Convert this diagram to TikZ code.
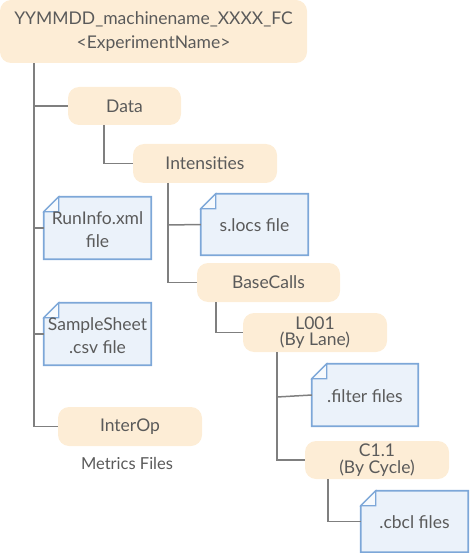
\documentclass[tikz,border=0pt]{standalone}
\usepackage{fontspec}
\setmainfont{Lato}
\definecolor{peach}{HTML}{FDEDD6}
\definecolor{bluefill}{HTML}{EBF2FA}
\definecolor{blueline}{HTML}{7DA7D8}
\definecolor{linegray}{HTML}{7F7F7F}
\definecolor{txtgray}{HTML}{5A5A5A}
\tikzset{
  folder/.style={fill=peach, rounded corners=11pt, inner sep=0pt, align=center,
    text=txtgray, font=\fontsize{17.5}{16.5}\selectfont},
  filenode/.style={inner sep=0pt, align=center, text=txtgray,
    font=\fontsize{17.5}{23}\selectfont},
  conn/.style={draw=linegray, line width=1.5pt},
  fileshape/.style={fill=bluefill, draw=blueline, line width=1.8pt, line join=miter},
}
\newcommand{\filebox}[1]{%
  \path[fileshape] ([xshift=15pt]#1.north west) -- (#1.north east) -- (#1.south east)
    -- (#1.south west) -- ([yshift=-15pt]#1.north west) -- cycle;
  \path[draw=blueline, fill=white!60!bluefill, line width=1.2pt]
    ([xshift=15pt]#1.north west) -- ([xshift=15pt,yshift=-15pt]#1.north west)
    -- ([yshift=-15pt]#1.north west) -- cycle;
}
\begin{document}
\begin{tikzpicture}[x=1pt,y=-1pt]
\useasboundingbox (0,0) rectangle (469,553);
% folder nodes
\node[folder, minimum width=307pt, minimum height=63pt,
  font=\fontsize{17.5}{24}\selectfont] (root) at (153.5,31.5)
  {YYMMDD\_machinename\_XXXX\_FC\\{<}ExperimentName{>}};
\node[folder, minimum width=113pt, minimum height=38pt] (data) at (124.5,106) {Data};
\node[folder, minimum width=144pt, minimum height=39pt] (int) at (205,163.5) {Intensities};
\node[folder, minimum width=143pt, minimum height=39pt] (bc) at (268.5,282.5) {BaseCalls};
\node[folder, minimum width=144pt, minimum height=39pt] (lane) at (315,332.5) {L001\\(By Lane)};
\node[folder, minimum width=144pt, minimum height=38pt] (cyc) at (377,460) {C1.1\\(By Cycle)};
\node[folder, minimum width=144pt, minimum height=39pt] (iop) at (130,426.5) {InterOp};
\node[text=txtgray, font=\fontsize{16.5}{16.5}\selectfont, inner sep=0pt] (met) at (127,463) {Metrics Files};
% file nodes
\node[filenode, minimum width=107pt, minimum height=62pt] (run) at (97.5,228) {};
\node[filenode, minimum width=107pt, minimum height=62pt] (ss) at (97.5,334) {};
\node[filenode, minimum width=107pt, minimum height=61pt] (locs) at (254.5,224.5) {};
\node[filenode, minimum width=106pt, minimum height=62pt] (filt) at (365,395) {};
\node[filenode, minimum width=107pt, minimum height=61pt] (cbcl) at (414.5,521.5) {};
\filebox{run}\filebox{ss}\filebox{locs}\filebox{filt}\filebox{cbcl}
\node[filenode] at ([yshift=-2pt]run.center) {RunInfo.xml\\file};
\node[filenode] at ([yshift=-2pt]ss.center) {SampleSheet\\.csv file};
\node[filenode] at ([yshift=-1pt]locs.center) {s.locs file};
\node[filenode] at ([yshift=-1pt]filt.center) {.filter files};
\node[filenode] at ([yshift=-1pt]cbcl.center) {.cbcl files};
% connectors
\coordinate (t0) at (34,63);
\path[conn] (root.south -| t0) |- (iop.west);
\path[conn] (34,106) -- (data.west);
\path[conn] (34,228) -- (run.west);
\path[conn] (34,334) -- (ss.west);
\path[conn] (104,125) |- (int.west);
\path[conn] (168,183) |- (bc.west);
\path[conn] (168,225) -- (locs.west);
\path[conn] (216,302) |- (lane.west);
\path[conn] (277,352) |- (cyc.west);
\path[conn] (277,397) -- (filt.west);
\path[conn] (328,479) |- (cbcl.west);
\end{tikzpicture}
\end{document}
